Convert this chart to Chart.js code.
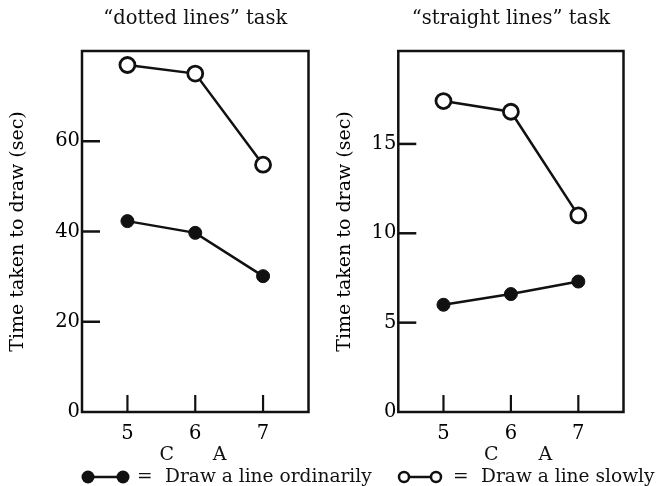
<!DOCTYPE html>
<html>
<head>
<meta charset="utf-8">
<script src="https://cdn.jsdelivr.net/npm/chart.js@4/dist/chart.umd.min.js"></script>
<style>
  html, body { margin: 0; padding: 0; background: #fff; }
  #wrap { position: relative; width: 659px; height: 486px; }
  #wrap canvas { position: absolute; left: 0; top: 0; }
</style>
</head>
<body>
<div id="wrap">
  <canvas id="dottedChart" width="659" height="486"></canvas>
  <canvas id="straightChart" width="659" height="486"></canvas>
</div>
<script>
// data
const ages = [5, 6, 7];
const dottedOrdinary = [42.3, 39.7, 30.1];
const dottedSlow = [76.9, 75.0, 54.8];
const straightOrdinary = [6.0, 6.6, 7.3];
const straightSlow = [17.4, 16.8, 11.0];
const dottedYTicks = [0, 20, 40, 60];
const straightYTicks = [0, 5, 10, 15];
const groupLabels = ['C', 'A'];
const panelTitles = ['\u201cdotted lines\u201d task', '\u201cstraight lines\u201d task'];
const legendLabels = ['Draw a line ordinarily', 'Draw a line slowly'];
const yTitle = 'Time taken to draw (sec)';

Chart.defaults.font.family = "'DejaVu Serif', serif";
Chart.defaults.color = '#000';

const INK = '#111';

// frame, inward ticks, panel title, C/A labels, legend
const panelDecor = {
    id: 'panelDecor',
    afterDraw(chart, args, opts) {
        const ctx = chart.ctx;
        const area = chart.chartArea;
        const xs = chart.scales.x;
        const ys = chart.scales.y;
        ctx.save();
        ctx.strokeStyle = INK;
        ctx.fillStyle = INK;

        ctx.lineWidth = 2.5;
        ctx.strokeRect(area.left, area.top, area.right - area.left, area.bottom - area.top);

        opts.yTicks.forEach(v => {
            if (v === 0) return;
            const y = ys.getPixelForValue(v);
            ctx.beginPath();
            ctx.moveTo(area.left, y);
            ctx.lineTo(area.left + 18, y);
            ctx.stroke();
        });
        ctx.lineWidth = 2.2;
        ages.forEach(v => {
            const x = xs.getPixelForValue(v);
            ctx.beginPath();
            ctx.moveTo(x, area.bottom);
            ctx.lineTo(x, area.bottom - 17);
            ctx.stroke();
        });

        ctx.font = "19.5px 'DejaVu Serif', serif";
        ctx.textAlign = 'center';
        ctx.textBaseline = 'middle';
        ctx.fillText(opts.title, (area.left + area.right) / 2, 19);

        ctx.font = "19px 'DejaVu Serif', serif";
        groupLabels.forEach((t, i) => {
            ctx.fillText(t, xs.getPixelForValue(opts.groupAt[i]), 455);
        });

        // legend entry
        const lg = opts.legend;
        ctx.lineWidth = 2.5;
        ctx.beginPath();
        ctx.moveTo(lg.x0, 477);
        ctx.lineTo(lg.x1, 477);
        ctx.stroke();
        [lg.x0, lg.x1].forEach(x => {
            ctx.beginPath();
            ctx.arc(x, 477, lg.r, 0, Math.PI * 2);
            if (lg.filled) {
                ctx.fill();
            } else {
                ctx.fillStyle = '#fff';
                ctx.fill();
                ctx.fillStyle = INK;
                ctx.stroke();
            }
        });
        ctx.font = "18.6px 'DejaVu Serif', serif";
        ctx.textAlign = 'left';
        ctx.fillText('=', lg.eqX, 477);
        ctx.fillText(lg.text, lg.textX, 477);
        ctx.restore();
    }
};

function makePanel(canvasId, cfg) {
    const pts = arr => ages.map((a, i) => ({ x: a, y: arr[i] }));
    return new Chart(document.getElementById(canvasId), {
        type: 'line',
        data: {
            datasets: [
                {
                    label: legendLabels[1],
                    data: pts(cfg.slow),
                    borderColor: INK,
                    borderWidth: 2.5,
                    pointRadius: 7.5,
                    pointBorderWidth: 2.8,
                    pointBackgroundColor: '#fff',
                    pointBorderColor: INK,
                },
                {
                    label: legendLabels[0],
                    data: pts(cfg.ordinary),
                    borderColor: INK,
                    borderWidth: 2.5,
                    pointRadius: 6.5,
                    pointBorderWidth: 1,
                    pointBackgroundColor: INK,
                    pointBorderColor: INK,
                }
            ]
        },
        options: {
            responsive: false,
            animation: false,
            devicePixelRatio: 1,
            layout: { padding: cfg.padding },
            scales: {
                x: {
                    type: 'linear',
                    min: 4.33,
                    max: 7.67,
                    grid: { display: false, drawTicks: false },
                    border: { display: false },
                    afterBuildTicks: s => { s.ticks = ages.map(v => ({ value: v })); },
                    afterFit: s => { s.height = 74; },
                    ticks: { padding: 10, font: { size: 19.5 } },
                },
                y: {
                    min: 0,
                    max: cfg.yMax,
                    grid: { display: false, drawTicks: false },
                    border: { display: false },
                    afterBuildTicks: s => { s.ticks = cfg.yTicks.map(v => ({ value: v })); },
                    afterFit: s => { s.width = cfg.yWidth; },
                    ticks: { padding: 2, font: { size: 19.5 } },
                    title: {
                        display: true,
                        text: yTitle,
                        padding: 0,
                        font: { size: 19 },
                    },
                }
            },
            plugins: {
                legend: { display: false },
                tooltip: { enabled: false },
                panelDecor: {
                    title: cfg.title,
                    yTicks: cfg.yTicks,
                    groupAt: cfg.groupAt,
                    legend: cfg.legend,
                }
            }
        },
        plugins: [panelDecor]
    });
}

makePanel('dottedChart', {
    ordinary: dottedOrdinary,
    slow: dottedSlow,
    yMax: 80,
    yTicks: dottedYTicks,
    yWidth: 75.4,
    padding: { left: 6.6, right: 350.5, top: 51, bottom: 0 },
    title: panelTitles[0],
    groupAt: [5.58, 6.36],
    legend: { filled: true, r: 6.5, x0: 88, x1: 123, eqX: 137, textX: 165, text: legendLabels[0] },
});

makePanel('straightChart', {
    ordinary: straightOrdinary,
    slow: straightSlow,
    yMax: 20.2,
    yTicks: straightYTicks,
    yWidth: 64.7,
    padding: { left: 333.6, right: 35.5, top: 51, bottom: 0 },
    title: panelTitles[1],
    groupAt: [5.71, 6.51],
    legend: { filled: false, r: 5, x0: 404, x1: 436, eqX: 453, textX: 481, text: legendLabels[1] },
});
</script>
</body>
</html>
